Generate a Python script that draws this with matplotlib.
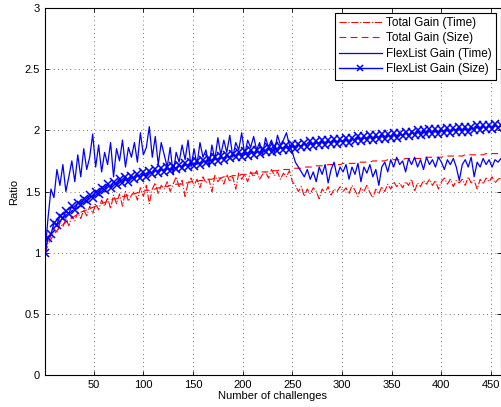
import numpy as np
import matplotlib
matplotlib.use("Agg")
import matplotlib.pyplot as plt

plt.rcParams['font.family'] = ['Liberation Sans', 'DejaVu Sans']
plt.rcParams['font.size'] = 8

# one sample every 3 challenges, 1..460
challenges = np.arange(1, 461, 3)

total_gain_time = [
    1.00, 1.08, 1.14, 1.20, 1.16, 1.24, 1.21, 1.28, 1.22, 1.30,
    1.26, 1.33, 1.28, 1.35, 1.30, 1.38, 1.32, 1.40, 1.35, 1.43,
    1.38, 1.45, 1.36, 1.47, 1.40, 1.48, 1.38, 1.50, 1.42, 1.47,
    1.50, 1.43, 1.53, 1.46, 1.55, 1.40, 1.52, 1.57, 1.48, 1.55,
    1.52, 1.58, 1.50, 1.56, 1.62, 1.54, 1.59, 1.46, 1.57, 1.61,
    1.55, 1.60, 1.53, 1.62, 1.57, 1.60, 1.50, 1.63, 1.58, 1.61,
    1.56, 1.64, 1.58, 1.62, 1.52, 1.65, 1.60, 1.64, 1.58, 1.66,
    1.62, 1.67, 1.60, 1.64, 1.66, 1.61, 1.68, 1.63, 1.66, 1.60,
    1.65, 1.62, 1.67, 1.58, 1.55, 1.50, 1.54, 1.46, 1.52, 1.48,
    1.53, 1.50, 1.44, 1.52, 1.49, 1.54, 1.47, 1.52, 1.50, 1.54,
    1.50, 1.53, 1.48, 1.55, 1.51, 1.46, 1.53, 1.50, 1.55, 1.49,
    1.45, 1.52, 1.48, 1.54, 1.50, 1.56, 1.52, 1.58, 1.54, 1.57,
    1.53, 1.58, 1.55, 1.60, 1.50, 1.57, 1.54, 1.59, 1.56, 1.60,
    1.55, 1.59, 1.52, 1.58, 1.61, 1.56, 1.60, 1.54, 1.59, 1.57,
    1.60, 1.55, 1.62, 1.57, 1.59, 1.52, 1.60, 1.56, 1.61, 1.58,
    1.62, 1.57, 1.60, 1.61,
]

total_gain_size = [
    1.00, 1.06, 1.11, 1.15, 1.18, 1.21, 1.23, 1.25, 1.27, 1.28,
    1.30, 1.31, 1.33, 1.34, 1.35, 1.36, 1.37, 1.38, 1.39, 1.40,
    1.41, 1.42, 1.43, 1.44, 1.44, 1.45, 1.46, 1.46, 1.47, 1.48,
    1.48, 1.49, 1.49, 1.50, 1.51, 1.51, 1.52, 1.52, 1.53, 1.53,
    1.54, 1.54, 1.55, 1.55, 1.56, 1.56, 1.56, 1.57, 1.57, 1.58,
    1.58, 1.58, 1.59, 1.59, 1.60, 1.60, 1.60, 1.61, 1.61, 1.61,
    1.62, 1.62, 1.62, 1.63, 1.63, 1.63, 1.64, 1.64, 1.64, 1.65,
    1.65, 1.65, 1.66, 1.66, 1.66, 1.66, 1.67, 1.67, 1.67, 1.68,
    1.68, 1.68, 1.68, 1.69, 1.69, 1.69, 1.69, 1.70, 1.70, 1.70,
    1.70, 1.71, 1.71, 1.71, 1.71, 1.72, 1.72, 1.72, 1.72, 1.72,
    1.73, 1.73, 1.73, 1.73, 1.73, 1.74, 1.74, 1.74, 1.74, 1.74,
    1.75, 1.75, 1.75, 1.75, 1.75, 1.76, 1.76, 1.76, 1.76, 1.76,
    1.76, 1.77, 1.77, 1.77, 1.77, 1.77, 1.77, 1.78, 1.78, 1.78,
    1.78, 1.78, 1.78, 1.78, 1.79, 1.79, 1.79, 1.79, 1.79, 1.79,
    1.79, 1.80, 1.80, 1.80, 1.80, 1.80, 1.80, 1.80, 1.81, 1.81,
    1.81, 1.81, 1.81, 1.81,
]

flexlist_gain_time = [
    1.00, 1.28, 1.52, 1.45, 1.68, 1.55, 1.72, 1.50, 1.62, 1.75,
    1.58, 1.80, 1.62, 1.85, 1.68, 1.78, 1.97, 1.70, 1.88, 1.66,
    1.82, 1.72, 1.90, 1.62, 1.85, 1.75, 1.92, 1.70, 1.86, 1.78,
    1.90, 1.74, 1.98, 1.80, 1.86, 2.03, 1.78, 1.95, 1.72, 1.90,
    1.80, 1.70, 1.86, 1.64, 1.82, 1.74, 1.88, 1.76, 1.92, 1.70,
    1.85, 1.72, 1.90, 1.78, 1.84, 1.70, 1.88, 1.76, 1.94, 1.80,
    1.92, 1.82, 1.96, 1.78, 1.90, 1.84, 1.98, 1.80, 1.92, 1.86,
    1.95, 1.84, 1.90, 1.80, 1.94, 1.86, 1.92, 1.82, 1.96, 1.88,
    1.92, 1.98, 1.88, 1.82, 1.74, 1.70, 1.66, 1.62, 1.68, 1.60,
    1.66, 1.58, 1.70, 1.64, 1.72, 1.57, 1.68, 1.74, 1.62, 1.70,
    1.66, 1.72, 1.60, 1.70, 1.64, 1.73, 1.58, 1.70, 1.65, 1.72,
    1.62, 1.68, 1.55, 1.70, 1.74, 1.66, 1.76, 1.70, 1.78, 1.72,
    1.75, 1.66, 1.77, 1.72, 1.78, 1.70, 1.76, 1.68, 1.78, 1.72,
    1.76, 1.70, 1.78, 1.74, 1.68, 1.76, 1.72, 1.77, 1.70, 1.59,
    1.72, 1.76, 1.70, 1.78, 1.62, 1.74, 1.70, 1.77, 1.72, 1.76,
    1.70, 1.76, 1.74, 1.77,
]

flexlist_gain_size = [
    1.00, 1.12, 1.15, 1.24, 1.23, 1.30, 1.28, 1.34, 1.32, 1.38,
    1.35, 1.41, 1.39, 1.44, 1.42, 1.47, 1.45, 1.50, 1.48, 1.53,
    1.51, 1.56, 1.53, 1.58, 1.55, 1.60, 1.57, 1.62, 1.58, 1.63,
    1.60, 1.64, 1.61, 1.66, 1.62, 1.67, 1.64, 1.68, 1.65, 1.69,
    1.66, 1.70, 1.67, 1.71, 1.68, 1.72, 1.69, 1.73, 1.70, 1.74,
    1.71, 1.75, 1.72, 1.76, 1.73, 1.77, 1.74, 1.78, 1.75, 1.79,
    1.76, 1.80, 1.77, 1.81, 1.78, 1.82, 1.78, 1.83, 1.79, 1.84,
    1.80, 1.84, 1.81, 1.85, 1.82, 1.86, 1.82, 1.87, 1.83, 1.87,
    1.84, 1.88, 1.84, 1.89, 1.85, 1.89, 1.86, 1.90, 1.86, 1.91,
    1.87, 1.91, 1.88, 1.92, 1.88, 1.92, 1.89, 1.93, 1.89, 1.93,
    1.90, 1.94, 1.90, 1.94, 1.91, 1.95, 1.91, 1.95, 1.92, 1.96,
    1.92, 1.96, 1.93, 1.97, 1.93, 1.97, 1.94, 1.98, 1.94, 1.98,
    1.95, 1.99, 1.95, 1.99, 1.96, 2.00, 1.96, 2.00, 1.97, 2.01,
    1.97, 2.01, 1.97, 2.01, 1.98, 2.02, 1.98, 2.02, 1.99, 2.03,
    1.99, 2.03, 1.99, 2.03, 2.00, 2.04, 2.00, 2.04, 2.01, 2.04,
    2.01, 2.05, 2.02, 2.04,
]

x_ticks = [50, 100, 150, 200, 250, 300, 350, 400, 450]
y_ticks = [0, 0.5, 1, 1.5, 2, 2.5, 3]

fig = plt.figure(figsize=(5.02, 4.07), dpi=100)
ax = fig.add_axes([45 / 502, 32 / 407, 456 / 502, 367 / 407])

ax.plot(challenges, total_gain_time, color='red', linestyle='-.', linewidth=0.8,
        label='Total Gain (Time)')
ax.plot(challenges, total_gain_size, color='red', linestyle=(0, (6, 4)), linewidth=0.8,
        label='Total Gain (Size)')
ax.plot(challenges, flexlist_gain_time, color='blue', linestyle='-', linewidth=0.9,
        label='FlexList Gain (Time)')
ax.plot(challenges, flexlist_gain_size, color='blue', linestyle='-', linewidth=1.0,
        marker='x', markersize=6, markeredgewidth=1.1,
        label='FlexList Gain (Size)')

ax.set_xlim(1, 460)
ax.set_ylim(0, 3)
ax.set_xticks(x_ticks)
ax.set_yticks(y_ticks)
ax.set_yticklabels(['0', '0.5', '1', '1.5', '2', '2.5', '3'])
ax.grid(True, linestyle=(0, (1, 4)), color='black', linewidth=0.6, alpha=0.7)
ax.tick_params(direction='in', top=True, right=True, length=3, width=0.6)
for s in ax.spines.values():
    s.set_linewidth(0.8)

ax.set_xlabel('Number of challenges', labelpad=1)
ax.set_ylabel('Ratio', labelpad=4)

leg = ax.legend(loc='upper right', fancybox=False, edgecolor='black', framealpha=1,
                borderaxespad=0.4, handlelength=3.6, handletextpad=0.4,
                labelspacing=0.3, borderpad=0.35, fontsize=8.5)
leg.get_frame().set_linewidth(0.8)
leg.legend_handles[3].set_markersize(4)

fig.savefig('out.png', dpi=100)
